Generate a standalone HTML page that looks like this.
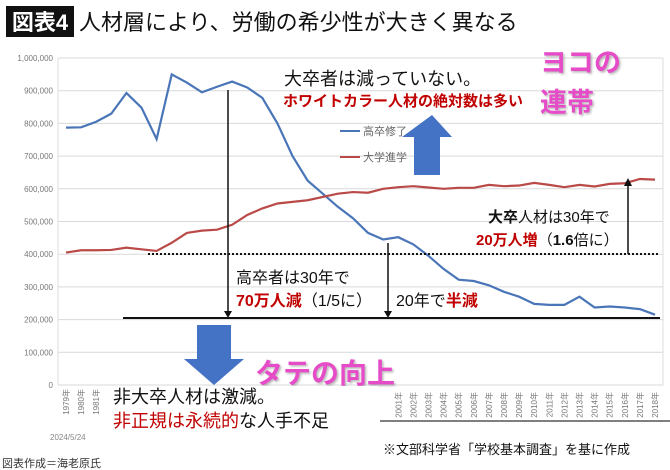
<!DOCTYPE html>
<html><head><meta charset="utf-8"><style>
body{margin:0;background:#fff;}
svg{display:block;font-family:"Liberation Sans","Noto Sans CJK JP",sans-serif;}
</style></head><body>
<svg id="c" width="670" height="470" viewBox="0 0 670 470" xmlns="http://www.w3.org/2000/svg">
<defs><filter id="sh" x="-10%" y="-10%" width="130%" height="130%"><feDropShadow dx="1.5" dy="1.5" stdDeviation="1" flood-color="#888" flood-opacity="0.6"/></filter></defs>
<rect x="6" y="6" width="68" height="31" fill="#111"/>
<text x="40" y="30" font-size="22" font-weight="bold" fill="#fff" text-anchor="middle">図表4</text>
<text x="79" y="30" font-size="22" fill="#111">人材層により、労働の希少性が大きく異なる</text>
<g id="grid"></g>
<g id="ylab"></g>
<g id="xlab"></g>
<g id="series"></g>
<text x="284" y="85" font-size="18" fill="#111">大卒者は減っていない。</text>
<text x="283" y="106" font-size="15" font-weight="bold" fill="#c00000">ホワイトカラー人材の絶対数は多い</text>
<text x="540" y="72" font-size="27" font-weight="bold" fill="#e64bc8" filter="url(#sh)">ヨコの</text>
<text x="540" y="112" font-size="27" font-weight="bold" fill="#e64bc8" filter="url(#sh)">連帯</text>
<line x1="340" y1="131" x2="360" y2="131" stroke="#4a76b8" stroke-width="2"/>
<text x="363" y="135" font-size="11" fill="#666">高卒修了</text>
<line x1="340" y1="157" x2="360" y2="157" stroke="#b94a48" stroke-width="2"/>
<text x="363" y="161" font-size="11" fill="#666">大学進学</text>
<polygon points="414,175 414,137 402,137 432,115 452,137 440,137 440,175" fill="#4472c4"/>
<line x1="148" y1="254" x2="660" y2="254" stroke="#111" stroke-width="2" stroke-dasharray="2,2"/>
<line x1="628" y1="254" x2="628" y2="184" stroke="#111" stroke-width="1.5"/>
<polygon points="624,186 628,178 632,186" fill="#111"/>
<text x="488" y="222" font-size="15" fill="#111"><tspan font-weight="bold">大卒</tspan>人材は30年で</text>
<text x="476" y="245" font-size="15" fill="#111"><tspan font-weight="bold" fill="#c00000">20万人増</tspan>（<tspan font-weight="bold">1.6</tspan>倍に）</text>
<line x1="123" y1="318" x2="660" y2="318" stroke="#111" stroke-width="2"/>
<line x1="228" y1="90" x2="228" y2="313" stroke="#111" stroke-width="1.5"/>
<polygon points="224,311 228,318 232,311" fill="#111"/>
<line x1="388" y1="243" x2="388" y2="313" stroke="#111" stroke-width="1.5"/>
<polygon points="384,311 388,318 392,311" fill="#111"/>
<text x="236" y="283" font-size="16" fill="#111">高卒者は30年で</text>
<text x="236" y="306" font-size="16" fill="#111"><tspan font-weight="bold" fill="#c00000">70万人減</tspan>（1/5に）</text>
<text x="396" y="306" font-size="16" fill="#111">20年で<tspan font-weight="bold" fill="#c00000">半減</tspan></text>
<polygon points="197,325 231,325 231,359 244,359 214,385 184,359 197,359" fill="#4472c4"/>
<text x="255" y="383" font-size="28" font-weight="bold" fill="#e64bc8" filter="url(#sh)">タテの向上</text>
<rect x="108" y="386" width="270" height="46" fill="#fff"/>
<text x="113" y="403" font-size="18" fill="#111">非大卒人材は激減。</text>
<text x="113" y="427" font-size="18" fill="#111"><tspan fill="#c00000">非正規は永続的</tspan>な人手不足</text>
<text x="50" y="440" font-size="8" fill="#888">2024/5/24</text>
<text x="2" y="467" font-size="11" fill="#333">図表作成＝海老原氏</text>
<text x="383" y="454" font-size="13" fill="#111">※文部科学省「学校基本調査」を基に作成</text>
</svg>
<script>
const years=[];for(let y=1979;y<=2018;y++)years.push(y);
const highSchool=[787,788,805,830,893,848,752,950,925,895,912,928,910,878,800,700,625,585,545,510,465,445,452,430,395,355,322,318,305,285,270,248,245,245,270,237,240,237,232,215];
const university=[405,412,412,413,420,415,410,435,465,472,475,490,520,540,555,560,565,575,585,590,588,600,605,608,604,600,603,603,612,608,610,618,612,605,612,607,615,617,630,628];
const yTicks=[0,100000,200000,300000,400000,500000,600000,700000,800000,900000,1000000];
const yTickLabels=["0","100,000","200,000","300,000","400,000","500,000","600,000","700,000","800,000","900,000","1,000,000"];
const NS="http://www.w3.org/2000/svg";
function yS(v){return 385-(v/1000000)*327;}
function xS(i){return 66+i*(655-66)/(years.length-1);}
function mk(tag,attrs,parent,txt){const e=document.createElementNS(NS,tag);for(const k in attrs)e.setAttribute(k,attrs[k]);if(txt!==undefined)e.textContent=txt;parent.appendChild(e);return e;}
const grid=document.getElementById('grid'),ylab=document.getElementById('ylab'),xlab=document.getElementById('xlab'),ser=document.getElementById('series');
mk('line',{x1:58,y1:58,x2:58,y2:385,stroke:'#ddd'},grid);
mk('line',{x1:663,y1:58,x2:663,y2:385,stroke:'#ddd'},grid);
yTicks.forEach((t,i)=>{
 const g=mk('line',{x1:58,y1:yS(t),x2:663,y2:yS(t),stroke:'#d9d9d9'},grid);
 
 
 const l=mk('text',{x:53,y:yS(t)+3,'font-size':8,fill:'#777','text-anchor':'end'},ylab,yTickLabels[i]);
 
 
});
years.forEach((y,i)=>{
 if(!(i<=2||y>=2001))return;
 const x=xS(i),yy=y>=2001?392:389;
 const t=mk('text',{x:x+3,y:yy,'font-size':8,fill:'#777','text-anchor':'end',transform:`rotate(-90 ${x+3} ${yy})`},xlab,y+'年');
 
 
});
mk('line',{x1:380,y1:421,x2:670,y2:421,stroke:'#555','stroke-width':1.5},xlab);
function line(arr,color,name){
 const p=mk('polyline',{points:arr.map((v,i)=>xS(i)+','+yS(v*1000)).join(' '),fill:'none',stroke:color,'stroke-width':2.2},ser);
 
 
}
line(highSchool,'#4a76b8','series-high-school');
line(university,'#b94a48','series-university');
</script>
</body></html>
